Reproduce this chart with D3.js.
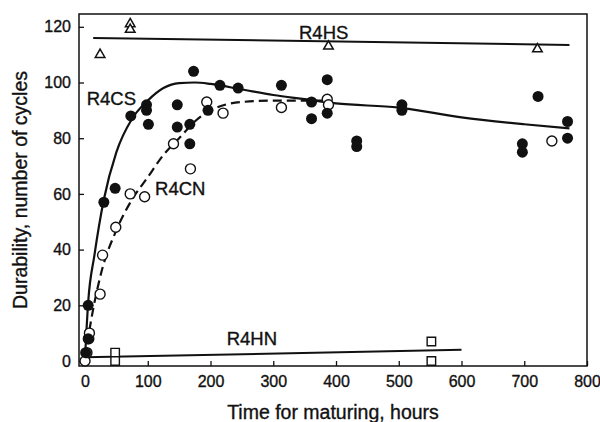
<!DOCTYPE html>
<html>
<head>
<meta charset="utf-8">
<script src="https://cdn.jsdelivr.net/npm/d3@7"></script>
<style>
  body { margin: 0; background: #fff; }
  text { font-family: "Liberation Sans", Arial, Helvetica, sans-serif; fill: #111; stroke: #111; stroke-width: 0.35px; }
</style>
</head>
<body>
<div id="chart"></div>
<script>
"use strict";

//R4CS, filled circles
var csHours  = [1, 5, 5, 30, 48, 73, 98, 98, 101, 147, 147, 167, 167, 173, 196, 215, 244,
                313, 361, 361, 386, 386, 433, 433, 505, 505, 697, 697, 722, 769, 769];
var csCycles = [3, 8, 20, 57, 62, 88, 92, 90, 85, 92, 84, 85, 78, 104, 90, 99, 98,
                99, 93, 87, 101, 89, 79, 77, 92, 90, 78, 75, 95, 86, 80];

//R4CN, open circles
var cnHours  = [0, 3, 6, 7, 24, 28, 49, 72, 95, 141, 168, 194, 220, 313, 386, 388, 744];
var cnCycles = [0, 3, 8, 10, 24, 38, 48, 60, 59, 78, 69, 93, 89, 91, 94, 92, 79];

//R4HS, triangles
var hsHours  = [24, 72, 72, 388, 721];
var hsCycles = [110, 121, 119, 113, 112];

//R4HN, squares
var hnHours  = [48, 48, 552, 552];
var hnCycles = [3, 0, 7, 0];

//fitted curves
var csFitHours  = [0, 5, 15, 30, 50, 75, 100, 125, 150, 175, 200, 250, 300, 350, 400, 500, 600, 700, 772];
var csFitCycles = [1, 21, 38, 58, 75, 87, 93.5, 98, 99.8, 100, 99.5, 97.5, 95.5, 94, 92.5, 91, 87.5, 85, 83.5];
var cnFitHours  = [0, 10, 25, 50, 75, 100, 125, 150, 175, 200, 250, 300, 390];
var cnFitCycles = [1, 15, 31, 47, 58, 66, 74, 80, 86, 90, 93, 93.5, 93.5];
var hsFitHours  = [13, 772];
var hsFitCycles = [116, 113.5];
var hnFitHours  = [0, 600];
var hnFitCycles = [1.3, 4];

var xTicks = [0, 100, 200, 300, 400, 500, 600, 700, 800];
var yTicks = [0, 20, 40, 60, 80, 100, 120];

//Sets the size of svg elements.
var margin = {top: 14, right: 13, bottom: 56, left: 79},
    width = 600 - margin.left - margin.right,
    height = 422 - margin.top - margin.bottom;

var svg = d3.select("#chart")
        .append("svg")
        .attr("width", 600)
        .attr("height", 422)
        .append("g")
        .attr("transform", "translate(" + margin.left + "," + margin.top + ")");

var x = d3.scaleLinear().domain([-9.6, 800]).range([0, width]);
var y = d3.scaleLinear().domain([-1.8, 124.6]).range([height, 0]);

function pairs(xs, ys) {
    return xs.map(function (d, i) { return [d, ys[i]]; });
}

//axes with inward ticks
var xAxis = svg.append("g")
        .attr("transform", "translate(0," + height + ")")
        .call(d3.axisBottom(x).tickValues(xTicks).tickSizeInner(-5).tickSizeOuter(0).tickPadding(10));
var yAxis = svg.append("g")
        .call(d3.axisLeft(y).tickValues(yTicks).tickSizeInner(-5).tickSizeOuter(0).tickPadding(8));
[xAxis, yAxis].forEach(function (a) {
    a.select(".domain").remove();
    a.selectAll(".tick line").attr("stroke", "#111").attr("stroke-width", 1.3);
    a.selectAll(".tick text").style("font-size", "16px").attr("fill", "#111");
});

//frame
svg.append("rect")
        .attr("width", width)
        .attr("height", height)
        .attr("fill", "none")
        .attr("stroke", "#111")
        .attr("stroke-width", 1.5);

//axis titles
svg.append("text")
        .attr("x", width / 2)
        .attr("y", height + 53)
        .attr("text-anchor", "middle")
        .style("font-size", "19.5px")
        .text("Time for maturing, hours");
svg.append("text")
        .attr("transform", "translate(" + (-52) + "," + (height / 2) + ") rotate(-90)")
        .attr("text-anchor", "middle")
        .style("font-size", "19.5px")
        .text("Durability, number of cycles");

//fitted lines
var line = d3.line()
        .x(function (d) { return x(d[0]); })
        .y(function (d) { return y(d[1]); });

svg.append("path")
        .datum(pairs(hsFitHours, hsFitCycles))
        .attr("d", line)
        .attr("fill", "none").attr("stroke", "#111").attr("stroke-width", 2);
svg.append("path")
        .datum(pairs(hnFitHours, hnFitCycles))
        .attr("d", line)
        .attr("fill", "none").attr("stroke", "#111").attr("stroke-width", 2);
svg.append("path")
        .datum(pairs(csFitHours, csFitCycles))
        .attr("d", line.curve(d3.curveMonotoneX))
        .attr("fill", "none").attr("stroke", "#111").attr("stroke-width", 2.2);
svg.append("path")
        .datum(pairs(cnFitHours, cnFitCycles))
        .attr("d", line.curve(d3.curveMonotoneX))
        .attr("fill", "none").attr("stroke", "#111").attr("stroke-width", 2.2)
        .attr("stroke-dasharray", "9,5");

//markers
svg.append("g").selectAll("path")
        .data(pairs(hsHours, hsCycles))
        .enter().append("path")
        .attr("transform", function (d) { return "translate(" + x(d[0]) + "," + y(d[1]) + ")"; })
        .attr("d", d3.symbol().type(d3.symbolTriangle).size(40))
        .attr("fill", "#fff").attr("stroke", "#111").attr("stroke-width", 1.5);

svg.append("g").selectAll("path")
        .data(pairs(hnHours, hnCycles))
        .enter().append("path")
        .attr("transform", function (d) { return "translate(" + x(d[0]) + "," + y(d[1]) + ")"; })
        .attr("d", d3.symbol().type(d3.symbolSquare).size(72))
        .attr("fill", "#fff").attr("stroke", "#111").attr("stroke-width", 1.4);

svg.append("g").selectAll("circle")
        .data(pairs(cnHours, cnCycles))
        .enter().append("circle")
        .attr("cx", function (d) { return x(d[0]); })
        .attr("cy", function (d) { return y(d[1]); })
        .attr("r", 5)
        .attr("fill", "#fff").attr("stroke", "#111").attr("stroke-width", 1.4);

svg.append("g").selectAll("circle")
        .data(pairs(csHours, csCycles))
        .enter().append("circle")
        .attr("cx", function (d) { return x(d[0]); })
        .attr("cy", function (d) { return y(d[1]); })
        .attr("r", 5.5)
        .attr("fill", "#111");

//series labels
var labels = [
    {name: "R4HS", t: 341, v: 115.8},
    {name: "R4CS", t: 2.7, v: 92},
    {name: "R4CN", t: 111.6, v: 59.6},
    {name: "R4HN", t: 225.8, v: 5.7}
];
svg.append("g").selectAll("text")
        .data(labels)
        .enter().append("text")
        .attr("x", function (d) { return x(d.t); })
        .attr("y", function (d) { return y(d.v); })
        .style("font-size", "18.5px")
        .text(function (d) { return d.name; });
</script>
</body>
</html>
